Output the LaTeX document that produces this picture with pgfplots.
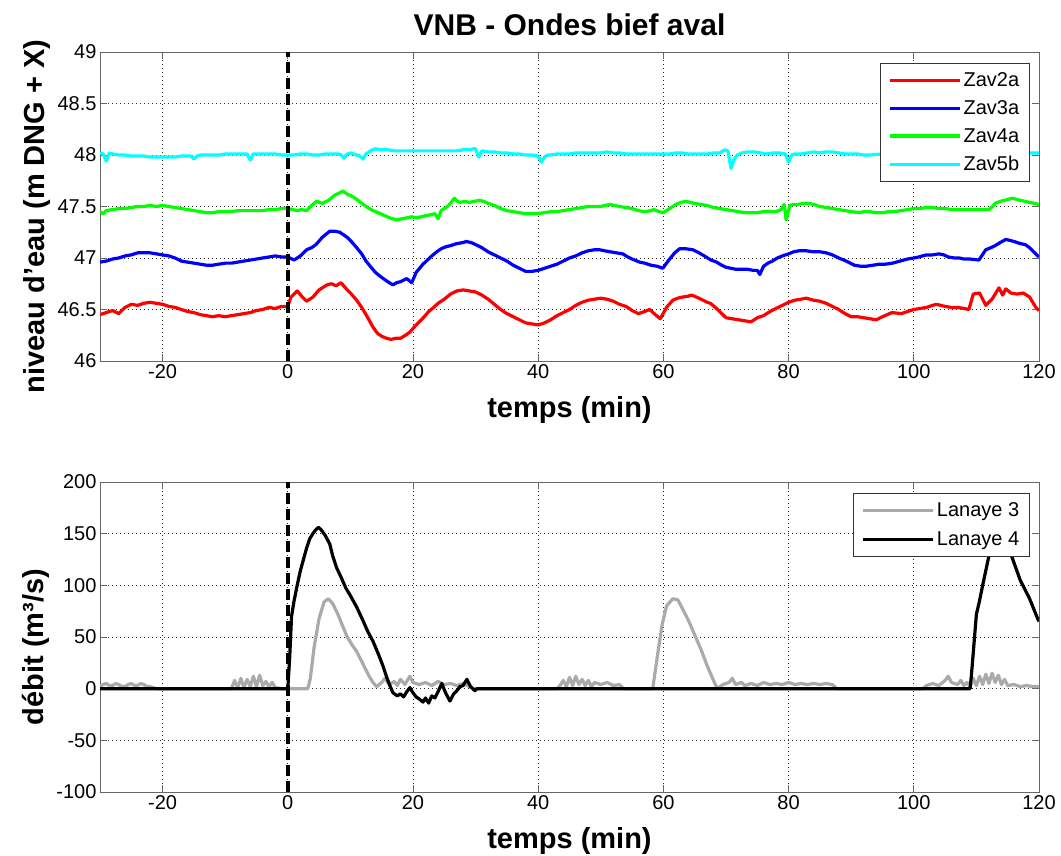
\documentclass[border=0pt]{standalone}
\usepackage{fontspec}
\setmainfont{Liberation Sans}
\usepackage{pgfplots}
\pgfplotsset{compat=1.18}
\definecolor{mred}{RGB}{255,0,0}
\definecolor{mblue}{RGB}{0,0,255}
\definecolor{mgreen}{RGB}{0,255,0}
\definecolor{mcyan}{RGB}{0,255,255}
\definecolor{mgray}{RGB}{170,170,170}

\pgfplotsset{
  matlab/.style={
    scale only axis, width=939pt,
    xmin=-30, xmax=120, xtick={-20,0,...,120},
    grid=major,
    grid style={black!85, line width=0.7pt, dash pattern=on 0.8pt off 3.2pt},
    tick align=inside, major tick length=7pt,
    axis line style={black!60, line width=0.9pt},
    every tick/.style={black!60, line width=0.9pt},
    tick label style={font=\fontsize{20}{24}\selectfont},
    label style={font=\bfseries\fontsize{29}{34}\selectfont},
    xlabel style={yshift=-11pt},
    ylabel style={xshift=-10pt},
    /pgf/number format/assume math mode=true,
    legend cell align=left,
    legend style={font=\fontsize{20}{24}\selectfont, draw=black!80, line width=0.8pt,
      fill=white, inner xsep=8pt, inner ysep=7pt},
    legend image code/.code={\draw[#1, line width=3.2pt] (0pt,0pt) -- (70pt,0pt);},
    every axis plot/.append style={line width=3.2pt, line join=round},
  },
  zero/.style={black, line width=3.5pt, dash pattern=on 11pt off 5pt, forget plot},
}

\begin{document}
\begin{tikzpicture}
\useasboundingbox (0pt,0pt) rectangle (1061pt,856pt);

% niveaux
\begin{axis}[matlab,
  at={(100pt,495pt)}, anchor=south west, height=309pt,
  ymin=46, ymax=49, ytick={46,46.5,...,49},
  xlabel={temps (min)},
  ylabel={niveau d'eau (m DNG + X)},
  title={VNB - Ondes bief aval},
  title style={font=\bfseries\fontsize{30}{36}\selectfont, yshift=7pt},
  legend style={at={(0.990,0.964)}, anchor=north east, row sep=8.5pt},
]
\addplot[mred] coordinates {
(-30,46.45)(-29,46.47)(-28,46.49)(-27,46.46)(-26,46.52)(-25,46.55)(-24,46.54)(-23,46.56)
(-22,46.57)(-21,46.56)(-20,46.55)(-19,46.53)(-18,46.52)(-17,46.50)(-16,46.48)(-15,46.47)
(-14,46.45)(-13,46.44)(-12,46.43)(-11,46.44)(-10,46.43)(-9,46.44)(-8,46.45)(-7,46.46)
(-6,46.47)(-5,46.49)(-4,46.50)(-3,46.52)(-2,46.51)(-1,46.53)(0,46.53)(0.5,46.62)
(1.5,46.68)(2.2,46.63)(3,46.58)(4,46.62)(5,46.69)(5.5,46.71)(6.3,46.74)(7,46.75)
(7.7,46.73)(8.5,46.76)(9.2,46.71)(10,46.66)(11,46.59)(11.8,46.52)(12.5,46.45)(13.6,46.33)
(14.3,46.27)(15,46.24)(15.8,46.22)(16.5,46.21)(17.2,46.22)(18,46.22)(18.8,46.25)(19.5,46.28)
(20.2,46.33)(21,46.38)(21.8,46.43)(22.5,46.48)(23.3,46.52)(24,46.56)(25,46.60)(26,46.65)
(27,46.68)(28,46.69)(29,46.68)(30,46.67)(31,46.64)(32,46.60)(33,46.55)(34,46.50)
(35,46.46)(36,46.43)(37,46.40)(38,46.37)(39,46.36)(40,46.35)(41,46.37)(42,46.40)
(43,46.44)(44,46.47)(45,46.50)(46,46.54)(47,46.57)(48,46.59)(49,46.60)(50,46.61)
(51,46.60)(52,46.58)(53,46.55)(54,46.53)(55,46.49)(56,46.46)(57,46.48)(57.8,46.50)
(58.7,46.45)(59.5,46.41)(60.5,46.52)(61.5,46.59)(62.3,46.61)(63,46.62)(64,46.63)(64.5,46.64)
(65.3,46.62)(66,46.60)(67,46.57)(67.5,46.56)(68.3,46.52)(69,46.48)(70,46.42)(71,46.41)
(72,46.40)(73,46.39)(74,46.38)(75,46.42)(76,46.44)(76.5,46.46)(77.3,46.49)(78,46.51)
(79,46.54)(80,46.57)(81,46.59)(82,46.60)(82.8,46.61)(84,46.59)(85,46.58)(86,46.56)
(87,46.53)(88,46.50)(89,46.46)(90,46.43)(91,46.43)(92,46.42)(93,46.41)(94,46.40)
(95,46.43)(96.5,46.47)(98,46.46)(99,46.48)(100,46.50)(101,46.51)(102,46.52)(103,46.54)
(103.6,46.55)(104.3,46.54)(105,46.53)(106,46.52)(107,46.52)(108,46.51)(108.8,46.50)(109.5,46.65)
(110.5,46.66)(111.5,46.54)(112.5,46.60)(113.6,46.71)(114.2,46.64)(114.7,46.70)(115.5,46.66)(116.5,46.65)
(117.5,46.66)(118.5,46.62)(119.5,46.52)(120,46.49)
};
\addlegendentry{Zav2a}
\addplot[mblue] coordinates {
(-30,46.96)(-29,46.97)(-28,46.99)(-27,47.00)(-26,47.02)(-25,47.03)(-24,47.05)(-23,47.05)
(-22,47.05)(-21,47.04)(-20,47.03)(-19,47.02)(-18,47.00)(-17,46.97)(-16,46.96)(-15,46.95)
(-14,46.94)(-13,46.93)(-12,46.93)(-11,46.94)(-10,46.95)(-9,46.95)(-8,46.96)(-7,46.97)
(-6,46.98)(-5,46.99)(-4,47.00)(-3,47.01)(-2,47.02)(-1,47.01)(0,47.01)(1,46.98)
(2,47.02)(3,47.08)(3.8,47.10)(4.5,47.13)(5.5,47.20)(6.7,47.26)(7.5,47.26)(8.3,47.25)
(9.5,47.20)(10.3,47.15)(11,47.10)(11.8,47.04)(12.5,46.97)(13.3,46.91)(14,46.86)(14.8,46.82)
(15.5,46.79)(16.2,46.76)(16.8,46.74)(17.4,46.76)(18,46.77)(19,46.80)(19.8,46.76)(20.5,46.86)
(21.6,46.94)(22.3,46.98)(23,47.02)(23.8,47.06)(24.5,47.09)(25.3,47.11)(26,47.12)(27,47.14)
(28,47.15)(28.5,47.16)(29.3,47.15)(30,47.13)(31,47.10)(32,47.06)(33,47.03)(34,47.00)
(35,46.97)(36,46.93)(37,46.90)(38,46.87)(39,46.87)(40,46.88)(41,46.90)(42,46.92)
(43,46.94)(44,46.97)(45,47.00)(46,47.02)(47,47.05)(48,47.07)(49,47.08)(49.8,47.08)
(50.6,47.07)(51.5,47.06)(52.5,47.05)(53.5,47.04)(54.3,47.01)(55,46.99)(56.2,46.96)(57,46.95)
(58,46.93)(59,46.92)(59.9,46.90)(60.5,46.95)(61,46.99)(61.8,47.05)(62.6,47.09)(63.5,47.09)
(64.7,47.08)(65.7,47.05)(66.8,47.01)(67.6,46.98)(68.5,46.96)(69.3,46.93)(70,46.91)(70.8,46.90)
(71.6,46.89)(72.5,46.89)(73.5,46.89)(74.3,46.88)(75,46.88)(75.4,46.84)(76,46.92)(76.7,46.95)
(77.4,46.97)(78.2,47.00)(79,47.02)(80,47.04)(80.8,47.06)(81.7,47.07)(82.8,47.07)(84,47.06)
(85,47.06)(86,47.05)(87,47.03)(88,47.00)(89.2,46.97)(90.5,46.93)(91.5,46.92)(92.4,46.92)
(93.5,46.93)(94.5,46.94)(95.5,46.94)(96.6,46.95)(97.8,46.97)(99,46.99)(100,47.00)(100.8,47.01)
(102,47.03)(103,47.03)(104,47.04)(104.8,47.03)(105.5,47.01)(106.5,47.00)(107.3,47.00)(108,46.99)
(109,46.99)(110.4,46.98)(111.5,47.08)(112.3,47.10)(113,47.12)(113.8,47.15)(114.7,47.18)(115.4,47.17)
(116,47.16)(117,47.14)(117.8,47.13)(118.5,47.10)(119.3,47.05)(120,47.01)
};
\addlegendentry{Zav3a}
\addplot[mgreen] coordinates {
(-30,47.45)(-29.5,47.43)(-29,47.46)(-28,47.47)(-27,47.48)(-26,47.48)(-25,47.49)(-24,47.50)
(-23,47.50)(-22,47.51)(-21,47.50)(-20,47.51)(-19,47.50)(-18,47.49)(-17,47.48)(-16,47.47)
(-15,47.46)(-14,47.45)(-13,47.44)(-12,47.44)(-11,47.45)(-10,47.45)(-9,47.45)(-8,47.46)
(-7,47.46)(-6,47.46)(-5,47.46)(-4,47.46)(-3,47.47)(-2,47.47)(-1,47.48)(0,47.48)
(0.8,47.47)(1.5,47.46)(2.2,47.47)(3,47.46)(3.5,47.49)(4,47.52)(4.6,47.55)(5.5,47.53)
(6.5,47.56)(7.5,47.61)(8.2,47.63)(8.8,47.65)(9.5,47.62)(10.2,47.60)(11,47.57)(11.8,47.53)
(12.5,47.50)(13.3,47.47)(14,47.45)(14.8,47.43)(15.5,47.41)(16.3,47.39)(17.3,47.37)(18.2,47.38)
(19,47.39)(19.8,47.40)(20.5,47.39)(21.3,47.40)(22,47.41)(22.8,47.42)(23.5,47.43)(24,47.38)
(24.5,47.46)(25,47.48)(25.5,47.50)(26.1,47.54)(26.6,47.58)(27.1,47.55)(27.5,47.54)(28.3,47.55)
(29,47.54)(29.8,47.55)(30.6,47.56)(31.3,47.55)(32,47.53)(33,47.51)(34,47.48)(35,47.46)
(36,47.45)(37,47.44)(38,47.43)(39,47.43)(39.7,47.43)(41,47.44)(42,47.45)(43,47.45)
(44,47.46)(45,47.47)(46,47.48)(47,47.49)(48,47.50)(49,47.50)(50,47.50)(51.4,47.52)
(52.2,47.51)(53,47.50)(54,47.49)(55,47.48)(56,47.46)(57,47.45)(58,47.46)(58.5,47.47)
(59.3,47.45)(60,47.44)(61,47.48)(62,47.52)(62.8,47.54)(63.6,47.55)(64.3,47.54)(65,47.53)
(66,47.52)(67,47.51)(68,47.49)(69,47.48)(70,47.47)(71,47.46)(72,47.45)(73,47.44)
(74,47.44)(75,47.44)(76,47.45)(77,47.45)(78,47.45)(78.8,47.47)(79.3,47.52)(79.6,47.37)
(80.2,47.51)(80.8,47.52)(81.5,47.52)(82.3,47.53)(83.3,47.53)(84,47.52)(85,47.50)(86,47.49)
(87,47.48)(88,47.47)(89,47.46)(90,47.45)(91.3,47.44)(92,47.45)(93,47.45)(94,47.44)
(95,47.44)(96,47.45)(97,47.45)(98,47.46)(99,47.47)(100,47.48)(101,47.48)(102,47.49)
(103,47.49)(104,47.48)(105,47.48)(106,47.47)(107,47.47)(108,47.47)(109,47.47)(110,47.47)
(111,47.47)(112,47.47)(112.6,47.50)(113,47.53)(113.8,47.55)(114.5,47.56)(115.1,47.57)(115.7,47.58)
(116.4,47.57)(117,47.56)(117.8,47.55)(118.5,47.54)(119.3,47.53)(120,47.52)
};
\addlegendentry{Zav4a}
\addplot[mcyan] coordinates {
(-30,48.02)(-29.5,48.01)(-29,47.94)(-28.5,48.02)(-28,48.01)(-27,48.00)(-26,48.00)(-25,47.99)
(-24,47.99)(-23,47.99)(-22,47.98)(-21,47.98)(-20,47.98)(-19,47.98)(-18,47.98)(-17,47.99)
(-16,47.99)(-15.5,47.99)(-15,47.96)(-14.5,47.99)(-14,48.00)(-13,48.00)(-12,48.00)(-11,48.00)
(-10,48.01)(-9,48.01)(-8,48.01)(-7,48.01)(-6.5,48.01)(-6,47.95)(-5.5,48.01)(-5,48.01)
(-4,48.01)(-3,48.01)(-2,48.01)(-1,48.00)(0,48.00)(1,48.00)(2,48.01)(3,48.01)
(4,48.00)(5,48.00)(6,48.01)(7,48.01)(8,48.01)(8.5,48.00)(9,47.97)(9.5,48.01)
(10,48.02)(11,48.00)(11.5,47.99)(12,47.96)(12.5,48.01)(13,48.03)(13.5,48.05)(14,48.06)
(15,48.05)(16,48.05)(17,48.04)(18,48.04)(19,48.04)(20,48.04)(21,48.04)(22,48.04)
(23,48.04)(24,48.04)(25,48.04)(26,48.04)(27,48.04)(28,48.05)(29,48.05)(29.6,48.06)
(30,48.06)(30.5,47.98)(31,48.04)(32,48.03)(33,48.03)(34,48.02)(35,48.02)(36,48.01)
(37,48.01)(38,48.00)(39,48.00)(40,47.99)(40.5,47.93)(41,47.98)(41.5,48.00)(42,48.00)
(43,48.01)(44,48.01)(45,48.01)(46,48.02)(47,48.02)(48,48.02)(49,48.02)(50,48.02)
(51,48.03)(52,48.02)(53,48.02)(54,48.01)(55,48.01)(56,48.01)(57,48.01)(58,48.01)
(59,48.01)(60,48.01)(61,48.01)(62,48.02)(63,48.02)(64,48.01)(65,48.01)(66,48.01)
(67,48.01)(68,48.02)(69,48.02)(69.8,48.05)(70.3,48.04)(70.8,47.87)(71.3,47.96)(71.8,48.00)
(72.5,48.02)(73.5,48.03)(74.5,48.03)(75.5,48.02)(76.5,48.01)(77.5,48.02)(78.5,48.02)(79.5,48.01)
(80,47.93)(80.5,48.00)(81,48.01)(82,48.01)(83,48.02)(84,48.03)(85,48.02)(86,48.03)
(87,48.03)(88,48.02)(89,48.01)(90,48.01)(91,48.01)(92,48.00)(93,48.00)(95,48.01)
(100,48.01)(105,48.00)(110,48.00)(115,48.01)(117,48.02)(118,48.02)(119,48.02)(120,48.02)
};
\addlegendentry{Zav5b}
\addplot[zero] coordinates {(0,46) (0,49)};
\end{axis}

% debits
\begin{axis}[matlab,
  at={(100pt,64pt)}, anchor=south west, height=310pt,
  ymin=-100, ymax=200, ytick={-100,-50,...,200},
  xlabel={temps (min)},
  ylabel={débit (m³/s)},
  legend style={at={(0.990,0.964)}, anchor=north east, row sep=10pt},
]
\addplot[mgray] coordinates {
(-30,2)(-29.5,4)(-29,5)(-28.5,3)(-28,3)(-27.5,5)(-27,4)(-26.5,2)(-26,2)(-25.5,4)
(-25,5)(-24.5,3)(-24,3)(-23.5,5)(-23,4)(-22.5,2)(-22,2)(-21.5,1)(-21,0)(-9,0)
(-8.5,8)(-8,1)(-7.5,10)(-7,1)(-6.5,9)(-6,2)(-5.5,12)(-5,2)(-4.5,13)(-4,3)
(-3.5,7)(-3,2)(-2.5,6)(-2,1)(-1,0)(3.2,0)(3.6,10)(4.2,40)(5,68)(5.8,84)
(6.5,87)(7.2,82)(8,72)(8.8,60)(9.5,50)(10.3,42)(11,36)(12,24)(13,12)(13.6,6)
(14.2,2)(15,6)(15.5,10)(16.2,4)(17,7)(17.5,3)(18,9)(18.7,4)(19.5,12)(20,6)
(21,4)(22,6)(23,3)(24,7)(25,4)(26,5)(27,3)(28,5)(29,2)(29.6,0)
(43,0)(43.5,3)(44,8)(44.5,2)(45,11)(45.5,3)(46,12)(46.5,4)(47,9)(47.5,3)
(48,8)(48.5,2)(49,6)(50,4)(51,6)(52,3)(53,4)(53.6,0)(58.3,0)(59,30)
(59.8,62)(60.5,80)(61.5,87)(62.3,86)(63,78)(64,66)(65,52)(66,38)(67,22)(68,8)
(68.6,0)(69.5,4)(70.5,6)(71,10)(71.5,4)(72.5,6)(73,3)(74,5)(75,3)(76,6)
(77,4)(78,5)(79,4)(80,6)(81,4)(82,5)(83,4)(84,5)(85,4)(86,5)
(87,4)(87.7,0)(101.5,0)(102,3)(103,5)(104,3)(105,8)(105.5,12)(106,6)(107,4)
(107.5,8)(108,3)(108.5,6)(109,2)(109.5,10)(110,3)(110.5,12)(111,4)(111.5,14)(112,5)
(112.5,15)(113,6)(113.5,13)(114,4)(114.5,9)(115,3)(116,4)(117,2)(118,3)(119,2)(120,2)
};
\addlegendentry{Lanaye 3}
\addplot[black] coordinates {
(-30,0)(0,0)(0.3,30)(0.6,70)(1,85)(1.5,100)(2,114)(2.5,125)(3,136)(3.5,145)
(4,150)(4.5,154)(4.9,156)(5.3,154)(6,148)(6.7,140)(7.2,128)(7.8,117)(8.5,108)(9.3,97)
(10,90)(11,79)(12,66)(12.8,55)(13.6,46)(14.5,33)(15.2,22)(15.8,11)(16.3,3)(16.8,-4)
(17.5,-7)(18,-5)(18.5,-8)(19,-3)(19.5,1)(20,-4)(20.5,-8)(21,-10)(21.6,-13)(22,-9)
(22.5,-14)(23,-7)(23.5,-9)(24,-3)(24.6,5)(25.2,-4)(25.9,-12)(26.5,-5)(27,-2)(27.5,2)
(28,3)(28.6,9)(29.2,2)(29.9,-2)(30.2,0)(109,0)(109.3,20)(109.7,50)(110,72)(110.5,85)
(111,100)(112.3,137)(113.5,162)(115.7,127)(117,105)(118.5,87)(119.7,69)(120,65)
};
\addlegendentry{Lanaye 4}
\addplot[zero] coordinates {(0,-100) (0,200)};
\end{axis}
\end{tikzpicture}
\end{document}
